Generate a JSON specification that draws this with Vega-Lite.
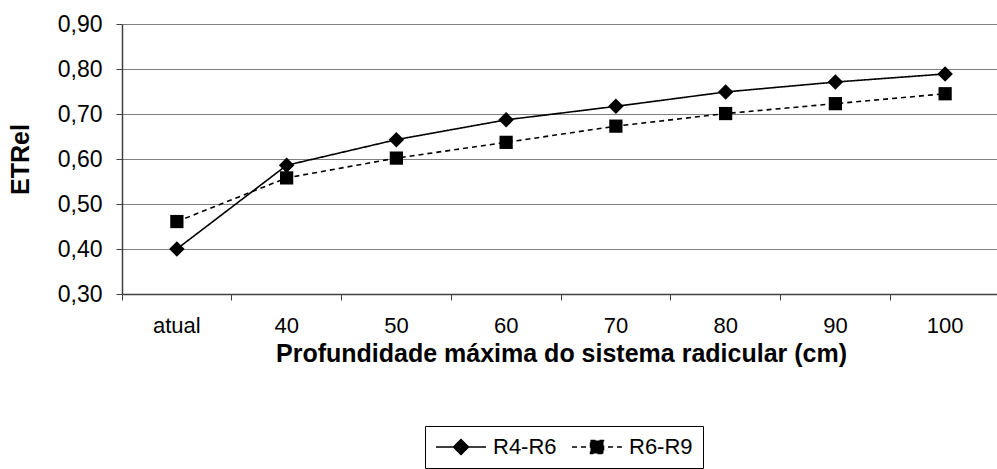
{
  "$schema": "https://vega.github.io/schema/vega-lite/v6.json",
  "width": 878,
  "height": 270,
  "autosize": {"type": "none"},
  "padding": {"left": 122, "top": 24, "right": 0, "bottom": 175},
  "background": "white",
  "config": {
    "view": {"stroke": null},
    "font": "Liberation Sans",
    "axis": {"labelColor": "black", "titleColor": "black", "labelFont": "Liberation Sans", "titleFont": "Liberation Sans"}
  },
  "data": {
    "values": [
      {"prof": "atual", "serie": "R4-R6", "etrel": 0.40},
      {"prof": "40", "serie": "R4-R6", "etrel": 0.586},
      {"prof": "50", "serie": "R4-R6", "etrel": 0.643},
      {"prof": "60", "serie": "R4-R6", "etrel": 0.687},
      {"prof": "70", "serie": "R4-R6", "etrel": 0.717},
      {"prof": "80", "serie": "R4-R6", "etrel": 0.749},
      {"prof": "90", "serie": "R4-R6", "etrel": 0.771},
      {"prof": "100", "serie": "R4-R6", "etrel": 0.789},
      {"prof": "atual", "serie": "R6-R9", "etrel": 0.461},
      {"prof": "40", "serie": "R6-R9", "etrel": 0.558},
      {"prof": "50", "serie": "R6-R9", "etrel": 0.602},
      {"prof": "60", "serie": "R6-R9", "etrel": 0.637},
      {"prof": "70", "serie": "R6-R9", "etrel": 0.673},
      {"prof": "80", "serie": "R6-R9", "etrel": 0.701},
      {"prof": "90", "serie": "R6-R9", "etrel": 0.723},
      {"prof": "100", "serie": "R6-R9", "etrel": 0.745}
    ]
  },
  "encoding": {
    "x": {
      "field": "prof", "type": "ordinal",
      "sort": ["atual", "40", "50", "60", "70", "80", "90", "100"],
      "scale": {"type": "band", "paddingInner": 0, "paddingOuter": 0},
      "axis": {
        "title": "Profundidade máxima do sistema radicular (cm)",
        "titleFontSize": 25, "titleFontWeight": "bold", "titlePadding": 5,
        "labelFontSize": 22, "labelAngle": 0, "labelPadding": 15,
        "tickSize": 6, "tickColor": "#404040", "bandPosition": 0,
        "domainColor": "#404040", "domainWidth": 1.5, "grid": false
      }
    },
    "y": {
      "field": "etrel", "type": "quantitative",
      "scale": {"domain": [0.3, 0.9], "nice": false, "zero": false},
      "axis": {
        "title": "ETRel", "titleFontSize": 25, "titleFontWeight": "bold", "titlePadding": 24,
        "values": [0.3, 0.4, 0.5, 0.6, 0.7, 0.8, 0.9],
        "labelExpr": "replace(format(datum.value, '.2f'), '.', ',')",
        "labelFontSize": 23, "labelPadding": 14, "tickSize": 6, "tickColor": "#404040",
        "domainColor": "#404040", "domainWidth": 1.5,
        "grid": true, "gridColor": "#808080", "gridWidth": 1
      }
    }
  },
  "layer": [
    {
      "mark": {"type": "line", "color": "black", "strokeWidth": 1.6},
      "encoding": {
        "strokeDash": {
          "field": "serie", "type": "nominal",
          "scale": {"domain": ["R4-R6", "R6-R9"], "range": [[1, 0], [5, 4]]},
          "legend": {
            "orient": "none", "legendX": 303, "legendY": 402, "direction": "horizontal",
            "title": null, "strokeColor": "black", "padding": 10,
            "labelFontSize": 22, "labelFont": "Liberation Sans", "labelColor": "black",
            "symbolSize": 400, "symbolStrokeWidth": 1.5, "symbolStrokeColor": "black", "symbolFillColor": "black",
            "labelOffset": 36, "columnPadding": 12,
            "encode": {
              "symbols": {
                "update": {
                  "shape": {"signal": "datum.value === 'R4-R6' ? 'M-1,0L4,0M1.5,-0.75L2.25,0L1.5,0.75L0.75,0Z' : 'M-1,0L4,0M0.85,-0.65L2.15,-0.65L2.15,0.65L0.85,0.65Z'"},
                  "fill": {"value": "black"},
                  "stroke": {"value": "black"},
                  "strokeWidth": {"value": 1.5}
                }
              }
            }
          }
        }
      }
    },
    {
      "transform": [{"filter": "datum.serie === 'R4-R6'"}],
      "mark": {"type": "point", "filled": true, "color": "black", "opacity": 1, "shape": "diamond", "size": 240}
    },
    {
      "transform": [{"filter": "datum.serie === 'R6-R9'"}],
      "mark": {"type": "point", "filled": true, "color": "black", "opacity": 1, "shape": "square", "size": 175}
    }
  ]
}
